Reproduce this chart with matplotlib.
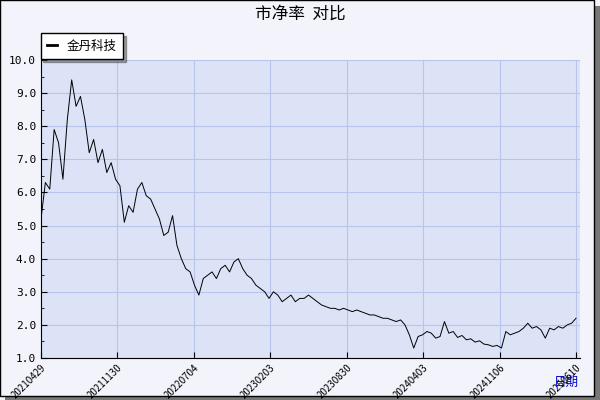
import matplotlib
matplotlib.use("Agg")
import matplotlib.pyplot as plt
from matplotlib.patches import Rectangle

plt.rcParams['font.family'] = ['Noto Sans CJK SC', 'DejaVu Sans']

values = [5.2,6.3,6.1,7.9,7.5,6.4,8.2,9.4,8.6,8.9,
8.2,7.2,7.6,6.9,7.3,6.6,6.9,6.4,6.2,5.1,
5.6,5.4,6.1,6.3,5.9,5.8,5.5,5.2,4.7,4.8,
5.3,4.4,4.0,3.7,3.6,3.2,2.9,3.4,3.5,3.6,
3.4,3.7,3.8,3.6,3.9,4.0,3.7,3.5,3.4,3.2,
3.1,3.0,2.8,3.0,2.9,2.7,2.8,2.9,2.7,2.8,
2.8,2.9,2.8,2.7,2.6,2.55,2.5,2.5,2.45,2.5,
2.45,2.4,2.45,2.4,2.35,2.3,2.3,2.25,2.2,2.2,
2.15,2.1,2.15,2.0,1.7,1.3,1.65,1.7,1.8,1.75,
1.6,1.65,2.1,1.75,1.8,1.62,1.68,1.55,1.58,1.48,
1.52,1.42,1.4,1.35,1.38,1.3,1.8,1.7,1.75,1.8,
1.9,2.05,1.9,1.95,1.85,1.6,1.9,1.85,1.95,1.9,2.0,2.05,2.2]
tick_labels = ["20210429","20211130","20220704","20230203","20230830","20240403","20241106","20250610"]
yticks = [1.0,2.0,3.0,4.0,5.0,6.0,7.0,8.0,9.0,10.0]

fig = plt.figure(figsize=(6,4), dpi=100, facecolor='#f2f3fb')
fig.patches.append(Rectangle((0.008,0.0), 0.992, 0.985, transform=fig.transFigure, facecolor='#777777', edgecolor='none', zorder=-2))
fig.patches.append(Rectangle((0.0,0.01), 0.99, 0.99, transform=fig.transFigure, facecolor='#f2f3fb', edgecolor='black', lw=1, zorder=-1))

ax = fig.add_axes([41/600, 1-358/400, 539/600, 298/400])
ax.set_facecolor('#dce3f7')
n = len(values)
x = list(range(n))
ax.plot(x, values, color='black', lw=0.7)
ax.set_xlim(0, (n-1)*539/535)
ax.set_ylim(1.0, 10.0)
ax.set_yticks(yticks)
ax.set_yticklabels([f"{v:.1f}" for v in yticks], fontsize=8, family='DejaVu Sans Mono')
ax.set_yticks([v+0.5 for v in yticks[:-1]], minor=True)
xt = [(n-1)*k/7 for k in range(8)]
ax.set_xticks(xt)
ax.set_xticklabels(tick_labels, rotation=45, fontsize=7, ha='right', rotation_mode='anchor')
ax.grid(True, color='#b8c4ec', lw=0.8)
for s in ['top','right']:
    ax.spines[s].set_visible(False)
ax.tick_params(direction='in', length=4)
ax.tick_params(which='minor', direction='in', length=2)
fig.text(0.5, 0.965, "市净率  对比", ha='center', va='center', fontsize=12)
fig.text(0.965, 0.045, "日期", ha='right', va='center', fontsize=9, color='#0000cc')
ax.legend(["金丹科技"], loc='lower left', bbox_to_anchor=(-0.003, 1.0), fontsize=9,
          fancybox=False, shadow=True, edgecolor='black', framealpha=1, handlelength=0.8,
          borderpad=0.5, borderaxespad=0.1)
leg = ax.get_legend()
leg.get_lines()[0].set_linewidth(2)
fig.savefig("out.png", dpi=100, facecolor=fig.get_facecolor())
